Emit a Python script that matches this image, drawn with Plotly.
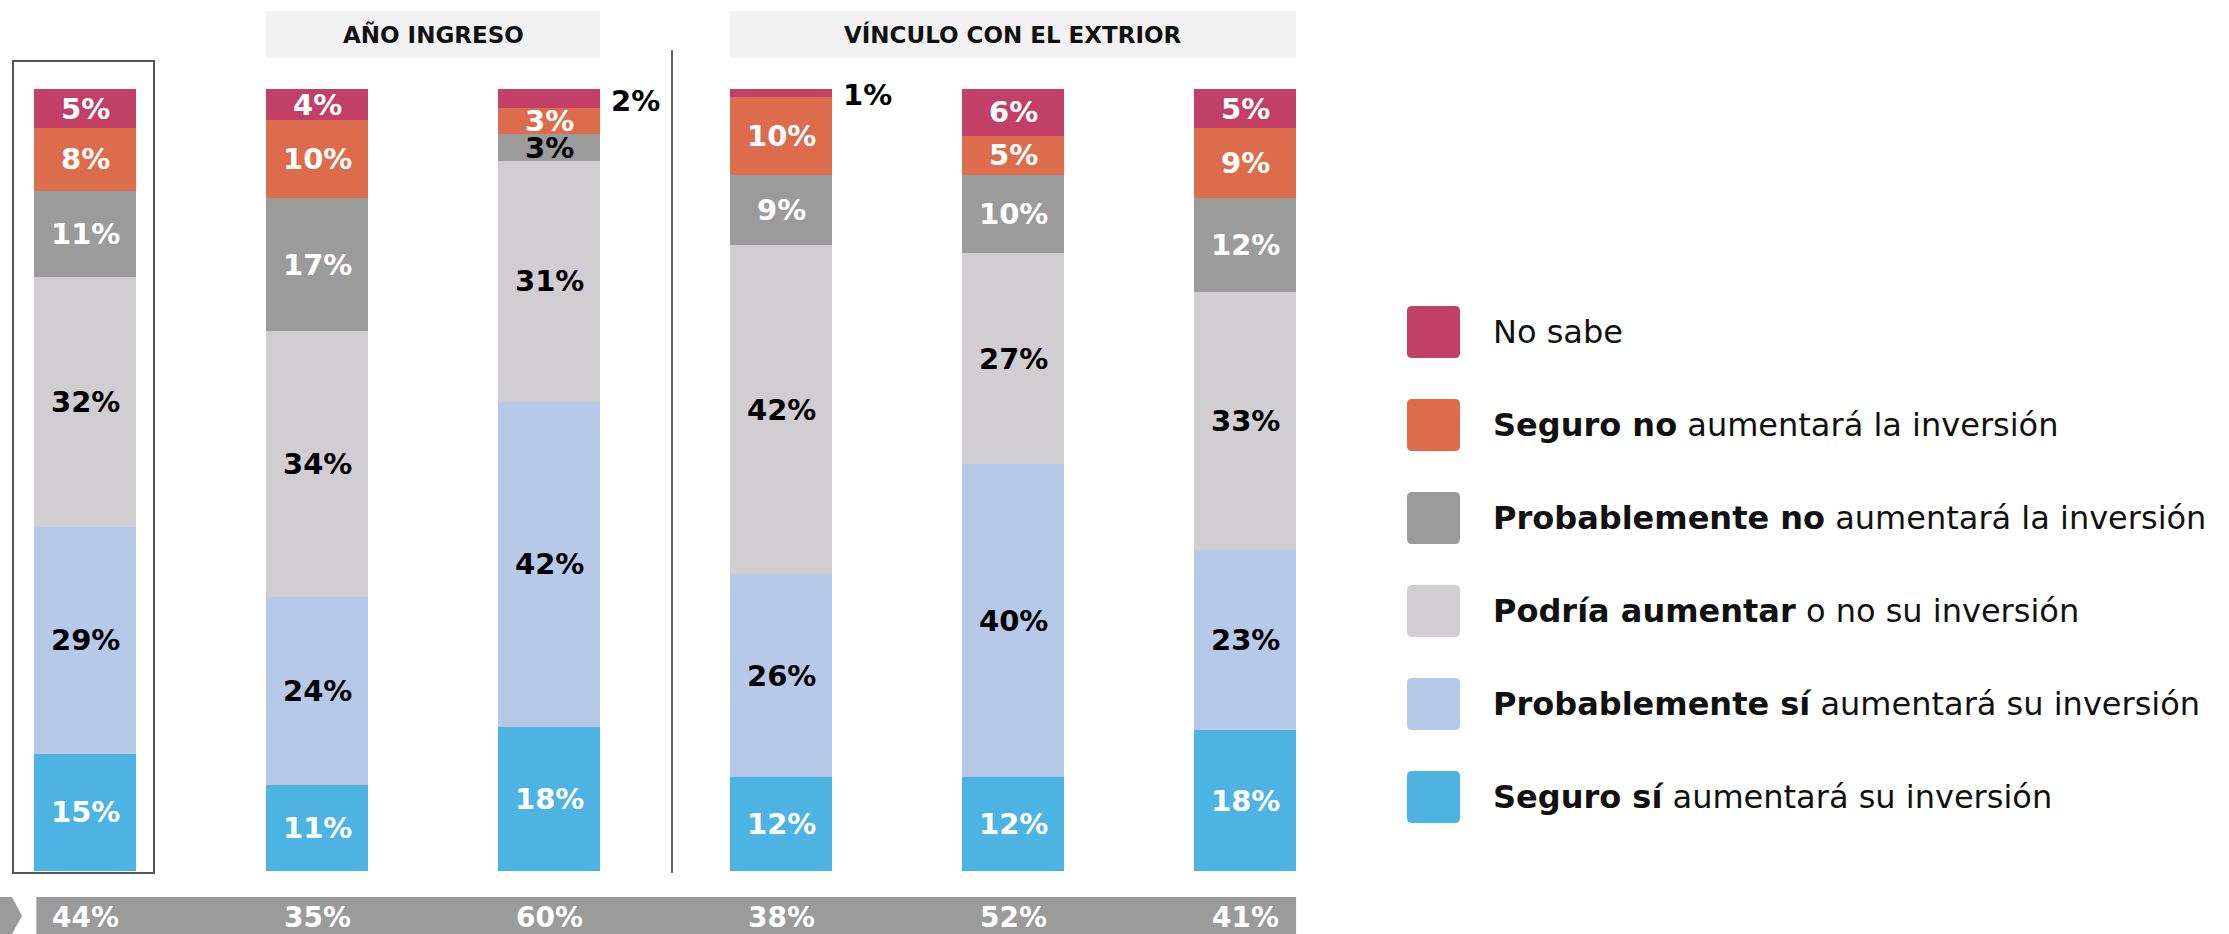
import plotly.graph_objects as go

W, H = 2229, 934

# ---------------- data ----------------
series_names = [
    "<b>Seguro sí</b> aumentará su inversión",
    "<b>Probablemente sí</b> aumentará su inversión",
    "<b>Podría aumentar</b> o no su inversión",
    "<b>Probablemente no</b> aumentará la inversión",
    "<b>Seguro no</b> aumentará la inversión",
    "No sabe",
]
series_colors = ["#4CB3E3", "#B6C9E8", "#D0CED0", "#9B9B9B", "#DD6C4C", "#C23F67"]
label_colors = ["white", "black", "black", "white", "white", "white"]

# columns: Total | Año ingreso (2) | Vínculo con el extrior (3)
seguro_si = [15, 11, 18.4, 12, 12, 18]
probable_si = [29, 24, 41.6, 26, 40, 23]
podria = [32, 34, 30.8, 42, 27, 33]
probable_no = [11, 17, 3.4, 9, 10, 12]
seguro_no = [8, 10, 3.4, 10, 5, 9]
no_sabe = [5, 4, 2.4, 1, 6, 5]
series_values = [seguro_si, probable_si, podria, probable_no, seguro_no, no_sabe]

favorable = [44, 35, 60, 38, 52, 41]
group_headers = ["AÑO INGRESO", "VÍNCULO CON EL EXTRIOR"]
group_spans = [(1, 2), (3, 5)]

xpos = list(range(len(favorable)))
BAR_W = 0.44

LABEL_FONT = "DejaVu Sans"
LEGEND_FONT = "DejaVu Sans"

fig = go.Figure()
for name, vals, col in zip(series_names, series_values, series_colors):
    fig.add_trace(go.Bar(x=xpos, y=vals, name=name, marker=dict(color=col, line=dict(width=0)),
                         width=BAR_W, showlegend=False, hoverinfo="skip"))

# ---------------- helpers ----------------
def px(x):
    return x / W

def py(y):
    return 1 - y / H

annotations = []
shapes = []

# segment labels
for i in xpos:
    cum = 0
    for s, vals in enumerate(series_values):
        v = vals[i]
        mid = cum + v / 2
        cum += v
        txt = f"{round(v)}%"
        if v < 2.5:
            annotations.append(dict(x=i + BAR_W / 2 + 0.04, y=mid - 0.3, xref="x", yref="y", text=f"<b>{txt}</b>",
                                    showarrow=False, xanchor="left", yanchor="middle",
                                    font=dict(family=LABEL_FONT, size=29, color="black")))
            continue
        color = label_colors[s]
        if s == 3 and v < 5:
            color = "black"
        annotations.append(dict(x=i, y=mid, xref="x", yref="y", text=f"<b>{txt}</b>", showarrow=False,
                                xanchor="center", yanchor="middle",
                                font=dict(family=LABEL_FONT, size=29, color=color)))

# group headers
for hdr, (a, b) in zip(group_headers, group_spans):
    shapes.append(dict(type="rect", xref="x", yref="paper", x0=a - BAR_W / 2, x1=b + BAR_W / 2,
                       y0=py(58), y1=py(11), fillcolor="#F2F2F2", line=dict(width=0), layer="below"))
    annotations.append(dict(x=(a + b) / 2, y=py(35), xref="x", yref="paper", text=f"<b>{hdr}</b>",
                            showarrow=False, xanchor="center", yanchor="middle",
                            font=dict(family=LABEL_FONT, size=23, color="#111111")))

# box around total column
shapes.append(dict(type="rect", xref="paper", yref="paper", x0=px(13), x1=px(154), y0=py(873), y1=py(61),
                   line=dict(color="#555555", width=2), fillcolor="rgba(0,0,0,0)", layer="below"))
# divider
shapes.append(dict(type="line", xref="paper", yref="paper", x0=px(672), x1=px(672), y0=py(873), y1=py(50),
                   line=dict(color="#666666", width=2)))

# bottom band
shapes.append(dict(type="rect", xref="x", yref="paper", x0=-0.21, x1=5 + BAR_W / 2, y0=0, y1=py(897),
                   fillcolor="#9B9B9B", line=dict(width=0), layer="below"))
chev = [(0, 897), (12, 897), (22, 916), (12, 934), (0, 934)]
path = "M " + " L ".join(f"{px(a)},{py(b)}" for a, b in chev) + " Z"
shapes.append(dict(type="path", xref="paper", yref="paper", path=path, fillcolor="#9B9B9B", line=dict(width=0)))
for i, v in zip(xpos, favorable):
    annotations.append(dict(x=i, y=py(917), xref="x", yref="paper", text=f"<b>{v}%</b>", showarrow=False,
                            xanchor="center", yanchor="middle",
                            font=dict(family=LABEL_FONT, size=28, color="white")))

# legend (top to bottom: No sabe ... Seguro sí)
def rrect(x0, y0, x1, y1, r):
    pts = [
        f"M {px(x0 + r)},{py(y0)}", f"L {px(x1 - r)},{py(y0)}", f"Q {px(x1)},{py(y0)} {px(x1)},{py(y0 + r)}",
        f"L {px(x1)},{py(y1 - r)}", f"Q {px(x1)},{py(y1)} {px(x1 - r)},{py(y1)}",
        f"L {px(x0 + r)},{py(y1)}", f"Q {px(x0)},{py(y1)} {px(x0)},{py(y1 - r)}",
        f"L {px(x0)},{py(y0 + r)}", f"Q {px(x0)},{py(y0)} {px(x0 + r)},{py(y0)}", "Z",
    ]
    return " ".join(pts)

for k, s in enumerate(reversed(range(len(series_names)))):
    cy = 332 + 93 * k
    shapes.append(dict(type="path", xref="paper", yref="paper", path=rrect(1407, cy - 26, 1460, cy + 26, 5),
                       fillcolor=series_colors[s], line=dict(width=0)))
    annotations.append(dict(x=px(1491), y=py(cy), xref="paper", yref="paper", text=series_names[s],
                            showarrow=False, xanchor="left", yanchor="middle",
                            font=dict(family=LEGEND_FONT, size=32, color="#111111")))

fig.update_layout(
    width=W, height=H, barmode="stack", bargap=0,
    margin=dict(l=0, r=0, t=0, b=0),
    paper_bgcolor="white", plot_bgcolor="white",
    xaxis=dict(range=[-0.3664, 9.241], visible=False, fixedrange=True),
    yaxis=dict(range=[-8.056, 111.38], visible=False, fixedrange=True),
    shapes=shapes, annotations=annotations, showlegend=False,
)

fig.write_html("out.html", config={"displayModeBar": False},
               post_script="document.body.style.margin='0';document.body.style.overflow='hidden';")
